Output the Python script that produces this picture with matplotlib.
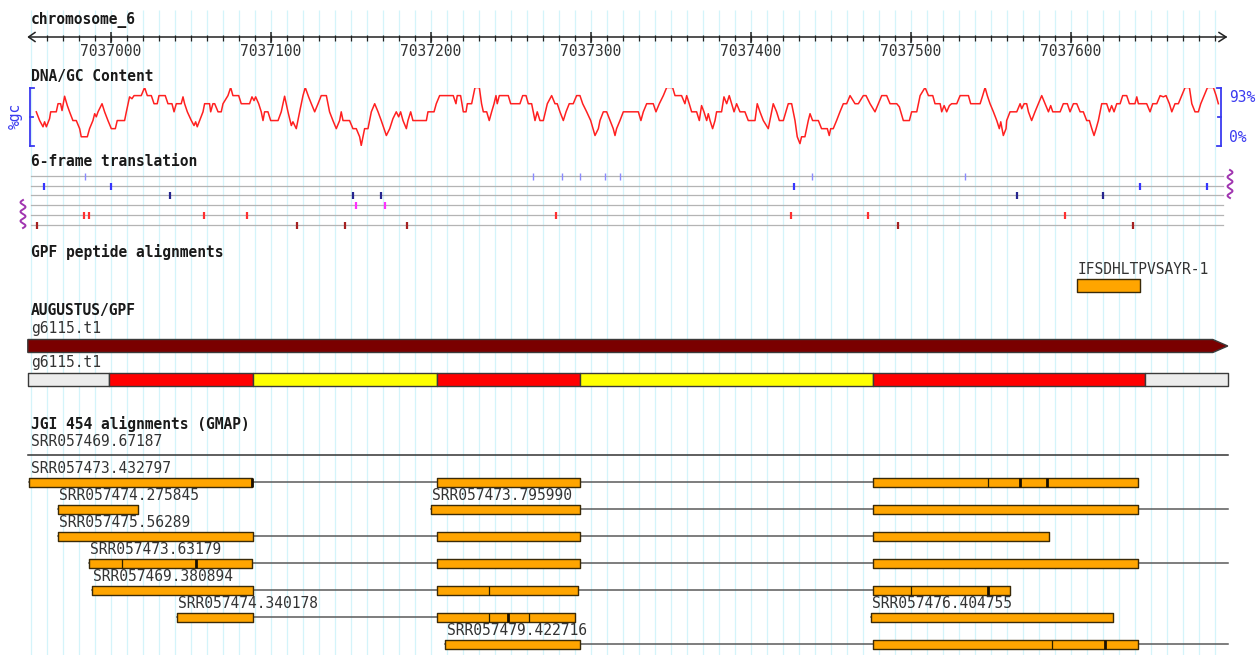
import numpy as np
import matplotlib
matplotlib.use("Agg")
import matplotlib.pyplot as plt
from matplotlib.patches import Polygon

# ---------------- data ----------------
CHROM = "chromosome_6"
VIEW_START, VIEW_END = 7036948, 7037698
ruler_labels = [7037000, 7037100, 7037200, 7037300, 7037400, 7037500, 7037600]
ORIGIN = 7036900  # offsets below are bp from this position

gc_off = [53.3, 55.4, 57.5, 58.5, 59.6, 61.6, 62.3, 65.8, 66.9, 68.5,
          69.4, 71.0, 72.7, 74.1, 76.2, 78.3, 80.4, 81.4, 85.2, 86.6,
          88.7, 89.8, 90.8, 91.9, 94.4, 96.0, 98.1, 100.2, 102.7, 103.9,
          108.5, 109.6, 111.6, 113.1, 114.4, 118.9, 121.0, 122.7, 125.2, 126.9,
          128.9, 130.0, 133.9, 135.6, 138.1, 139.4, 140.8, 143.9, 145.0, 146.0,
          147.7, 150.2, 151.9, 152.9, 153.9, 155.4, 157.5, 158.5, 161.6, 162.3,
          163.7, 164.8, 166.9, 168.9, 170.0, 173.1, 174.8, 176.2, 179.8, 181.4,
          186.6, 188.1, 189.4, 190.4, 192.3, 193.9, 195.0, 196.0, 198.1, 199.8,
          204.4, 206.4, 208.5, 210.6, 212.7, 213.7, 215.8, 217.9, 220.0, 221.4,
          223.5, 225.2, 227.3, 229.4, 231.4, 234.6, 236.6, 238.7, 240.8, 242.9,
          243.9, 245.0, 249.1, 251.2, 253.3, 255.4, 256.4, 258.5, 260.6, 262.7,
          264.8, 266.9, 268.9, 272.1, 274.2, 276.2, 278.3, 279.8, 281.0, 282.5,
          284.6, 285.6, 287.3, 288.7, 297.1, 298.1, 301.9, 303.3, 305.4,
          313.9, 315.6, 316.4, 318.5, 320.2, 321.9, 322.7, 325.4, 327.5, 330.2,
          331.6, 332.7, 334.8, 336.4, 337.9, 339.4, 340.6, 341.4, 342.7, 348.3,
          349.8, 355.6, 357.3, 359.4, 360.8, 362.9, 365.0, 366.4, 368.1, 370.2,
          372.7, 375.4, 377.5, 378.9, 380.6, 382.7, 384.4, 386.4, 388.9, 391.0,
          393.1, 394.8, 397.3, 399.8, 402.5, 404.6, 405.6, 407.7, 409.8, 411.9,
          413.9, 415.0, 416.0, 418.1, 420.2, 429.6, 431.2, 432.7, 434.8, 438.9,
          440.6, 442.7, 445.2, 447.3, 451.0, 452.5, 456.6, 458.7, 459.8, 461.4,
          462.9, 466.0, 467.7, 469.1, 470.6, 472.3, 473.3, 474.4, 476.0, 477.5,
          478.5, 481.6, 483.1, 484.8, 486.4, 487.9, 489.4, 491.0, 493.1, 496.2,
          498.3, 502.5, 503.9, 505.6, 507.7, 510.8, 512.9, 513.9, 516.0, 517.7,
          520.2, 523.3, 525.4, 527.5, 528.9, 530.6, 531.6, 533.7, 535.8, 536.9,
          538.5, 542.1, 544.1, 547.7, 548.9, 549.8, 551.4, 553.5, 555.6, 557.7,
          559.8, 561.9,
          565.0, 567.1, 570.2, 571.9, 574.4, 577.5, 579.6, 581.7, 584.8, 586.9,
          591.1, 592.7, 593.6, 595.2, 599.0, 600.4, 603.6, 605.7, 608.8, 610.9,
          613.6, 615.0, 618.2, 619.2, 620.7, 622.3, 624.0, 625.4, 628.6, 630.7,
          635.9, 637.3, 643.2, 644.8, 646.3, 647.7, 649.4, 651.5, 653.6, 655.2,
          656.1, 657.7, 659.4, 659.8, 661.9, 666.1, 668.2, 669.2, 670.7, 672.3,
          673.4, 675.4, 677.5, 679.6, 681.7, 683.8, 685.9, 687.3, 688.6, 693.2,
          695.2, 697.7, 699.4, 701.5, 703.6, 705.7, 707.7, 709.8, 711.5, 713.0,
          714.4, 715.7, 717.1, 719.2, 722.3, 724.0, 725.4, 726.9, 728.6, 730.7,
          732.3, 734.8, 736.5, 740.0, 741.1, 742.1, 747.3, 749.4, 751.1, 753.6,
          755.7, 757.7, 759.4, 761.5, 763.0, 765.0, 767.1, 769.2, 771.3, 774.0,
          775.5, 777.5, 779.6, 781.1, 783.2, 785.3, 789.0, 790.7, 792.1]
gc_pct = [54, 40, 30, 38, 30, 43, 54, 54, 67, 67,
          56, 79, 64, 54, 40, 40, 27, 14, 14, 27,
          40, 51, 46, 54, 67, 54, 40, 27, 27, 40,
          40, 54, 78, 75, 80, 80, 93, 80, 80, 67,
          67, 80, 80, 67, 67, 54, 67, 67, 78, 67,
          54, 40, 32, 38, 30, 40, 54, 67, 67, 54,
          67, 67, 54, 54, 67, 80, 93, 80, 80, 67,
          67, 78, 72, 78, 67, 54, 40, 54, 54, 40,
          40, 54, 79, 54, 32, 38, 27, 54, 80, 93,
          78, 67, 54, 67, 80, 80, 54, 40, 27, 40,
          54, 40, 40, 27, 27, 14, 0, 27, 27, 54,
          67, 54, 40, 16, 27, 43, 54, 46, 54, 40,
          27, 40, 54, 40, 40, 54, 54, 67, 80,
          80, 67, 80, 80, 54, 54, 67, 67, 93, 93,
          67, 54, 54, 40, 54, 67, 80, 67, 80, 80,
          67, 67, 80, 80, 67, 67, 40, 54, 40, 40,
          67, 80, 67, 67, 54, 40, 54, 67, 67, 80,
          80, 67, 54, 40, 16, 27, 40, 54, 54, 40,
          27, 16, 27, 40, 54, 54, 40, 54, 67, 67,
          54, 67, 80, 93, 93, 80, 80, 67, 80, 67,
          54, 54, 40, 64, 54, 40, 51, 40, 27, 40,
          54, 54, 78, 67, 80, 67, 54, 67, 54, 54,
          40, 40, 67, 54, 40, 27, 54, 67, 54, 40,
          40, 67, 67, 40, 14, 3, 14, 14, 40, 51,
          40, 40, 27, 27, 16, 27, 27, 40, 54, 67,
          67, 80,
          67, 67, 80, 80, 67, 54, 67, 80, 80, 67,
          67, 62, 54, 40, 40, 54, 54, 80, 93, 80,
          80, 67, 67, 54, 64, 54, 64, 67, 67, 80,
          80, 67, 67, 80, 93, 80, 67, 54, 40, 27,
          38, 16, 27, 40, 54, 54, 67, 59, 67, 67,
          54, 40, 54, 67, 80, 67, 54, 64, 54, 54,
          67, 67, 54, 67, 67, 54, 54, 40, 40, 27,
          16, 27, 40, 67, 67, 54, 64, 54, 67, 67,
          80, 80, 67, 67, 78, 67, 67, 54, 67, 67,
          80, 78, 80, 67, 54, 67, 67, 80, 93, 93,
          67, 54, 54, 67, 80, 93, 93, 80, 67]
GC_MAX = 93

# 6-frame translation marks (bp)
frame1 = [7036984, 7037264, 7037282, 7037293, 7037309, 7037318, 7037438, 7037534]
frame2 = [7036958, 7037000, 7037427, 7037643, 7037685]
frame3 = [7037037, 7037151, 7037169, 7037566, 7037620]
frame4 = [7037153, 7037171]
frame5 = [7036983, 7036986, 7037058, 7037085, 7037278, 7037425, 7037473, 7037596]
frame6 = [7036954, 7037116, 7037146, 7037185, 7037492, 7037639]

# GPF peptide
pep_name = "IFSDHLTPVSAYR-1"
pep_start, pep_end = 7037604, 7037643

# AUGUSTUS
aug_name = "g6115.t1"
aug_start, aug_end = 7036948, 7037698
aug_seg_bounds = [7036948, 7036999, 7037089, 7037204, 7037293, 7037476, 7037646, 7037698]
aug_seg_kind = ["utr", "cds_a", "cds_b", "cds_a", "cds_b", "cds_a", "utr"]

# JGI 454 reads
long_read = "SRR057469.67187"
jgi_names = ["SRR057473.432797", "SRR057474.275845", "SRR057473.795990",
             "SRR057475.56289", "SRR057473.63179", "SRR057469.380894",
             "SRR057474.340178", "SRR057476.404755", "SRR057479.422716"]
jgi_row = [0, 1, 1, 2, 3, 4, 5, 5, 6]
jgi_blocks = [
    [(7036949, 7037088), (7037204, 7037293), (7037476, 7037642)],
    [(7036967, 7037017)],
    [(7037200, 7037293), (7037476, 7037642)],
    [(7036967, 7037089), (7037204, 7037293), (7037476, 7037586)],
    [(7036986, 7037088), (7037204, 7037293), (7037476, 7037642)],
    [(7036988, 7037089), (7037204, 7037292), (7037476, 7037562)],
    [(7037041, 7037089), (7037204, 7037290)],
    [(7037475, 7037626)],
    [(7037209, 7037293), (7037476, 7037642)],
]
jgi_line_end = [7037642, 7037017, 7037698, 7037586, 7037698, 7037562, 7037290, 7037626, 7037698]
jgi_thin = [[7037548], [], [], [], [7037007], [7037236, 7037500], [7037236, 7037261], [], [7037588]]
jgi_thick = [[7037088, 7037568, 7037585], [], [], [], [7037053], [7037548], [7037248], [], [7037621]]

# ---------------- drawing ----------------
W, H = 1256, 655
PX_PER_BP = 1.6
XL = 7037000 - 111 / PX_PER_BP
XR = XL + W / PX_PER_BP


def X(px):
    return XL + px / PX_PER_BP


MONO = "DejaVu Sans Mono"
FS = 10.5
TXT = "#1a1a1a"

fig = plt.figure(figsize=(W / 100, H / 100), dpi=100)
ax = fig.add_axes([0, 0, 1, 1])
ax.set_xlim(XL, XR)
ax.set_ylim(H, 0)
ax.axis("off")

# grid
grid = np.arange(7036950, 7037700, 10)
ax.vlines(grid, 10, H, color="#d4f4fa", lw=0.9, zorder=0)

# ruler
ax.plot([X(29), X(1226)], [37, 37], color="#222", lw=1.1, zorder=3)
ax.plot([X(35), X(28.5), X(35)], [32.5, 37, 41.5], color="#222", lw=1.1, zorder=3)
ax.plot([X(1219), X(1226), X(1219)], [32.5, 37, 41.5], color="#222", lw=1.1, zorder=3)
minor = np.arange(7036960, 7037700, 10)
ax.vlines(minor, 34.5, 40.5, color="#222", lw=0.9, zorder=3)
ax.vlines(ruler_labels, 31.5, 43, color="#222", lw=1.1, zorder=3)
for t in ruler_labels:
    ax.text(t, 51.5, str(t), ha="center", va="center", family=MONO, fontsize=FS, color="#333")

ax.text(X(31), 19.5, CHROM, ha="left", va="center", family=MONO, fontsize=FS, weight="bold", color=TXT)

# track titles
for ty, title in [(76, "DNA/GC Content"), (162, "6-frame translation"),
                  (252, "GPF peptide alignments"), (311, "AUGUSTUS/GPF"),
                  (424, "JGI 454 alignments (GMAP)")]:
    ax.text(X(31), ty, title, ha="left", va="center", family=MONO, fontsize=FS,
            weight="bold", color=TXT)

# GC content track in its own axes
gtop, gbot = 87.5, 145.5
gax = fig.add_axes([0, 1 - gbot / H, 1, (gbot - gtop) / H])
gax.set_xlim(XL, XR)
gax.set_ylim(0, GC_MAX)
gax.axis("off")
gax.patch.set_alpha(0)
gax.plot(ORIGIN + np.array(gc_off), gc_pct, color="#ff2020", lw=1.1, zorder=3)

blue = "#3a3af0"
for bx, d in [(X(30), 1), (X(1221), -1)]:
    ax.plot([bx, bx], [gtop, gbot], color=blue, lw=1.3, zorder=3)
    for yy, L in [(gtop, 4), (gbot, 4), ((gtop + gbot) / 2, 3)]:
        ax.plot([bx, bx + d * L / PX_PER_BP], [yy, yy], color=blue, lw=1.3, zorder=3)
ax.text(X(15), 116, "%gc", rotation=90, ha="center", va="center", family=MONO,
        fontsize=FS, color=blue)
ax.text(X(1229), 97, "93%", ha="left", va="center", family=MONO, fontsize=FS, color=blue)
ax.text(X(1229), 137, "0%", ha="left", va="center", family=MONO, fontsize=FS, color=blue)

# 6-frame translation
frame_y = [176, 186, 195, 205, 215, 225]
frames = [frame1, frame2, frame3, frame4, frame5, frame6]
fcols = ["#8a8aff", "#3535ff", "#25258f", "#ff30ff", "#ff3030", "#a52020"]
flw = [1.0, 1.6, 1.6, 1.6, 1.6, 1.6]
for y, marks, c, w in zip(frame_y, frames, fcols, flw):
    ax.plot([X(31), X(1223)], [y, y], color="#b4b4b4", lw=0.9, zorder=2)
    ax.vlines(marks, y - 3.5, y + 3.5, color=c, lw=w, zorder=3)

purple = "#a035b0"
t = np.linspace(0, 1, 200)
ax.plot(X(1230) + 2.5 * np.sin(2 * np.pi * 3 * t) / PX_PER_BP, 170 + 28 * t, color=purple, lw=1.4)
ax.plot(X(23) - 2.5 * np.sin(2 * np.pi * 3 * t) / PX_PER_BP, 200 + 28 * t, color=purple, lw=1.4)

# GPF peptide
ORANGE = "#ffa500"
EDGE = "#3a2a08"
ax.broken_barh([(pep_start, pep_end - pep_start)], (279, 13), facecolors=ORANGE,
               edgecolors=EDGE, linewidth=1.0, zorder=3)
ax.text(pep_start, 269, pep_name, ha="left", va="center", family=MONO, fontsize=FS, color="#333")

# AUGUSTUS
ax.text(X(31), 329, aug_name, ha="left", va="center", family=MONO, fontsize=FS, color="#333")
head = 15 / PX_PER_BP
arrow = Polygon([(aug_start, 339.5), (aug_end - head, 339.5), (aug_end, 346),
                 (aug_end - head, 352.5), (aug_start, 352.5)], closed=True,
                facecolor="#7a0000", edgecolor="#3a3a3a", lw=1.0, zorder=3)
ax.add_patch(arrow)
ax.text(X(31), 362, aug_name, ha="left", va="center", family=MONO, fontsize=FS, color="#333")
kind_col = {"utr": "#ececec", "cds_a": "#ff0000", "cds_b": "#ffff00"}
segs = [(a, b - a) for a, b in zip(aug_seg_bounds[:-1], aug_seg_bounds[1:])]
ax.broken_barh(segs, (372.5, 13.5), facecolors=[kind_col[k] for k in aug_seg_kind],
               edgecolors="#3a3a3a", linewidth=1.0, zorder=3)

# JGI 454
ax.text(X(31), 441, long_read, ha="left", va="center", family=MONO, fontsize=FS, color="#333")
ax.plot([VIEW_START, VIEW_END], [455, 455], color="#333", lw=1.1, zorder=2)
row_y = [482, 509, 536, 563, 590, 617, 644]
for name, r, blocks, lend, thin, thick in zip(jgi_names, jgi_row, jgi_blocks,
                                               jgi_line_end, jgi_thin, jgi_thick):
    yc = row_y[r]
    start = blocks[0][0]
    ax.plot([start, lend], [yc, yc], color="#5a5a5a", lw=1.1, zorder=2)
    ax.broken_barh([(a, b - a) for a, b in blocks], (yc - 4.5, 9), facecolors=ORANGE,
                   edgecolors=EDGE, linewidth=1.0, zorder=3)
    if thin:
        ax.vlines(thin, yc - 4.5, yc + 4.5, color="#2a2000", lw=0.9, zorder=4)
    if thick:
        ax.vlines(thick, yc - 4.5, yc + 4.5, color="#1a1000", lw=2.0, zorder=4)
    ax.text(start + 0.8, yc - 13.5, name, ha="left", va="center", family=MONO,
            fontsize=FS, color="#333")

fig.savefig("out.png", dpi=100, facecolor="white")
